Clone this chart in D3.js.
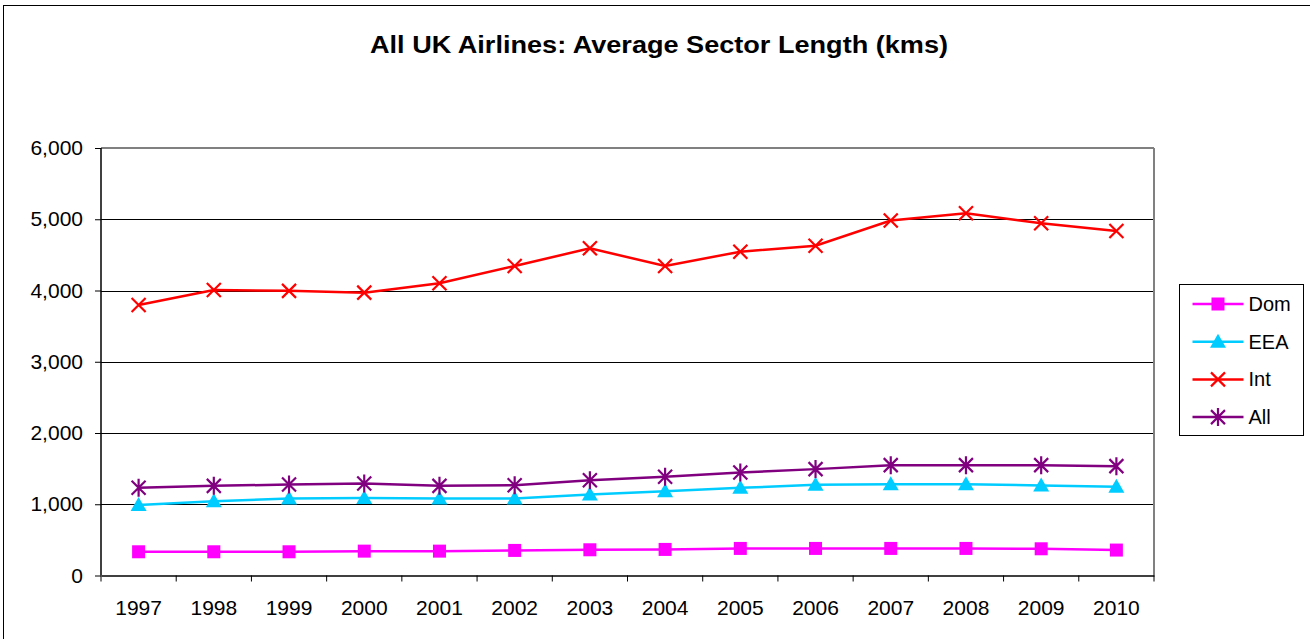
<!DOCTYPE html>
<html>
<head>
<meta charset="utf-8">
<script src="https://cdn.jsdelivr.net/npm/d3@7"></script>
<style>
  body { margin: 0; background: #fff; }
  text { font-family: "Liberation Sans", Arial, sans-serif; fill: #000; }
</style>
</head>
<body>
<script>
// data
var years = ["1997","1998","1999","2000","2001","2002","2003","2004","2005","2006","2007","2008","2009","2010"];
var dom = [333, 333, 333, 342, 342, 352, 361, 366, 380, 380, 380, 380, 375, 357];
var eea = [990, 1042, 1080, 1089, 1080, 1080, 1136, 1183, 1230, 1272, 1282, 1282, 1263, 1244];
var intl = [3797, 4007, 3995, 3970, 4101, 4344, 4592, 4344, 4545, 4629, 4982, 5083, 4943, 4835];
var all = [1232, 1258, 1277, 1291, 1258, 1268, 1338, 1385, 1446, 1493, 1549, 1549, 1549, 1535];
var yTicks = [0, 1000, 2000, 3000, 4000, 5000, 6000];

var series = [
  {name: "Dom", values: dom, color: "#ff00ff", marker: "square"},
  {name: "EEA", values: eea, color: "#00ccff", marker: "triangle"},
  {name: "Int", values: intl, color: "#ff0000", marker: "x"},
  {name: "All", values: all, color: "#800080", marker: "star"}
];

var W = 1310, H = 639;
var margin = {top: 148, right: 156, bottom: 63.5, left: 101};
var width = W - margin.left - margin.right,
    height = H - margin.top - margin.bottom;

var svg = d3.select("body").append("svg")
    .attr("width", W)
    .attr("height", H);

// outer frame
svg.append("rect")
    .attr("x", 3.5).attr("y", 5.5)
    .attr("width", W).attr("height", H)
    .attr("fill", "none").attr("stroke", "#000").attr("stroke-width", 1);

svg.append("text")
    .attr("x", 659).attr("y", 53)
    .attr("text-anchor", "middle")
    .attr("textLength", 578).attr("lengthAdjust", "spacingAndGlyphs")
    .style("font-size", "23px").style("font-weight", "bold")
    .text("All UK Airlines: Average Sector Length (kms)");

var g = svg.append("g")
    .attr("transform", "translate(" + margin.left + "," + margin.top + ")");

var x = d3.scaleBand().domain(years).range([0, width]);
var y = d3.scaleLinear().domain([0, 6000]).range([height, 0]);
var cx = function(i) { return x(years[i]) + x.bandwidth() / 2; };

// gridlines
g.selectAll(".grid").data(yTicks.slice(1, -1)).enter().append("line")
    .attr("x1", 0).attr("x2", width)
    .attr("y1", function(d) { return Math.round(y(d)) + 0.5; })
    .attr("y2", function(d) { return Math.round(y(d)) + 0.5; })
    .attr("stroke", "#000").attr("stroke-width", 1);

// plot frame top/right (gray)
g.append("line").attr("x1", 0).attr("x2", width).attr("y1", 0).attr("y2", 0)
    .attr("stroke", "#808080").attr("stroke-width", 2);
g.append("line").attr("x1", width).attr("x2", width).attr("y1", 0).attr("y2", height)
    .attr("stroke", "#808080").attr("stroke-width", 2);

// y axis
var yAxis = g.append("g")
    .call(d3.axisLeft(y).tickValues(yTicks).tickFormat(d3.format(",")).tickSize(6).tickPadding(12));
yAxis.select(".domain").attr("stroke", "#000").attr("stroke-width", 1.5).attr("d", "M0,0V" + height);
yAxis.selectAll("text").style("font-size", "21px").attr("fill", "#000");

// x axis
var xAxis = g.append("g")
    .attr("transform", "translate(0," + height + ")")
    .call(d3.axisBottom(x).tickSize(0));
xAxis.select(".domain").attr("stroke", "#000").attr("stroke-width", 1.5);
xAxis.selectAll("text").style("font-size", "21px").attr("fill", "#000")
    .attr("y", 39.5).attr("dy", 0);
xAxis.selectAll(".bt").data(d3.range(years.length + 1)).enter().append("line")
    .attr("x1", function(i) { return i * x.bandwidth(); })
    .attr("x2", function(i) { return i * x.bandwidth(); })
    .attr("y1", 0).attr("y2", 6)
    .attr("stroke", "#000");

function drawMarker(sel, type, color) {
  if (type === "square") {
    sel.append("rect").attr("x", -6.5).attr("y", -6.5).attr("width", 13).attr("height", 13)
        .attr("fill", color);
  } else if (type === "triangle") {
    sel.append("path").attr("d", "M0,-8L8,6L-8,6Z").attr("fill", color);
  } else if (type === "x") {
    sel.append("path").attr("d", "M-7,-7L7,7M-7,7L7,-7")
        .attr("stroke", color).attr("stroke-width", 2.2).attr("fill", "none");
  } else {
    sel.append("path").attr("d", "M-7,-7L7,7M-7,7L7,-7M0,-9V9")
        .attr("stroke", color).attr("stroke-width", 2.2).attr("fill", "none");
  }
}

var line = d3.line()
    .x(function(d, i) { return cx(i); })
    .y(function(d) { return y(d); });

series.forEach(function(s) {
  g.append("path")
      .datum(s.values)
      .attr("fill", "none")
      .attr("stroke", s.color)
      .attr("stroke-width", 2.5)
      .attr("d", line);
  s.values.forEach(function(v, i) {
    var m = g.append("g").attr("transform", "translate(" + cx(i) + "," + y(v) + ")");
    drawMarker(m, s.marker, s.color);
  });
});

// legend
var lg = svg.append("g").attr("transform", "translate(1179.5,284.5)");
lg.append("rect").attr("width", 124).attr("height", 151)
    .attr("fill", "#fff").attr("stroke", "#000").attr("stroke-width", 1);
series.forEach(function(s, i) {
  var row = lg.append("g").attr("transform", "translate(0," + (19.5 + i * 37.7) + ")");
  row.append("line").attr("x1", 13).attr("x2", 64).attr("y1", 0).attr("y2", 0)
      .attr("stroke", s.color).attr("stroke-width", 2.5);
  var m = row.append("g").attr("transform", "translate(38.5,0)");
  drawMarker(m, s.marker, s.color);
  row.append("text").attr("x", 69).attr("y", 7)
      .style("font-size", "20px").text(s.name);
});
</script>
</body>
</html>
